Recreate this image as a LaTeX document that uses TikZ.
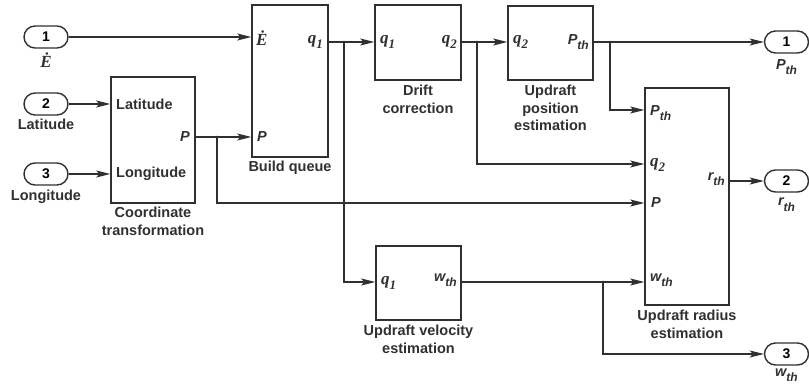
\documentclass[tikz,border=0pt]{standalone}
\usepackage{fontspec}
\setmainfont{Liberation Sans}
\newfontfamily\serf{Liberation Serif}
\usetikzlibrary{arrows.meta,shapes.misc}
\definecolor{ink}{HTML}{303030}
\newcommand{\sbx}[2]{#1\raisebox{-0.35em}{\fontsize{12}{12}\selectfont #2}}
\newcommand{\qq}[1]{{\serf\bfseries\itshape\fontsize{17}{17}\selectfont q\raisebox{-0.3em}{\fontsize{13}{13}\selectfont #1}}}
\newcommand{\Edot}{{\serf\bfseries\itshape\fontsize{17}{17}\selectfont Ė}}
\tikzset{
  blk/.style={draw=ink,line width=1.5pt,rectangle,inner sep=0pt},
  pill/.style={draw=ink,line width=1.4pt,rounded rectangle,minimum width=44pt,minimum height=22pt,inner sep=0pt,font=\bfseries\fontsize{14}{14}\selectfont},
  lbl/.style={inner sep=0pt,text=ink,font=\bfseries\fontsize{14.5}{17}\selectfont},
  captn/.style={inner sep=0pt,text=ink,align=center,anchor=north,font=\bfseries\fontsize{14.5}{17.5}\selectfont},
  wire/.style={draw=ink,line width=1.2pt},
  arr/.style={wire,-{Stealth[length=14pt,width=7pt,inset=3pt]}},
  jdot/.style={circle,fill=ink,inner sep=0pt,minimum size=2.8pt}
}
\begin{document}
\begin{tikzpicture}[x=1pt,y=-1pt]
\useasboundingbox (0,0) rectangle (809,387);
% inputs
\node[pill] (in1) at (46,37) {1};
\node[pill] (in2) at (46,104) {2};
\node[pill] (in3) at (46,174) {3};
\node[lbl,anchor=north] (in1l) at (46,53) {\Edot};
\node[lbl,anchor=north] (in2l) at (46,119) {Latitude};
\node[lbl,anchor=north] (in3l) at (46,190) {Longitude};
% blocks
\node[blk,minimum width=84pt,minimum height=126pt] (ct) at (153,140) {};
\node[blk,minimum width=76pt,minimum height=152pt] (bq) at (290,81) {};
\node[blk,minimum width=86pt,minimum height=75pt] (dc) at (418,42.5) {};
\node[blk,minimum width=85pt,minimum height=74pt] (up) at (550.5,43) {};
\node[blk,minimum width=84pt,minimum height=217pt] (ur) at (687,196.5) {};
\node[blk,minimum width=85pt,minimum height=74pt] (uv) at (418.5,283) {};
% outputs
\node[pill] (o1) at (786.5,42) {1};
\node[pill] (o2) at (786.5,181) {2};
\node[pill] (o3) at (786.5,354) {3};
\node[lbl,anchor=north] (o1l) at (786.5,59) {\itshape\sbx{P}{th}};
\node[lbl,anchor=north] (o2l) at (786.5,198) {\itshape\sbx{r}{th}};
\node[lbl,anchor=north] (o3l) at (786.5,369) {\itshape\sbx{w}{th}};
% captions
\node[captn] (ctc) at (153,207) {Coordinate\\transformation};
\node[captn] (bqc) at (290,161) {Build queue};
\node[captn] (dcc) at (418,85) {Drift\\correction};
\node[captn] (upc) at (550.5,85) {Updraft\\position\\estimation};
\node[captn] (urc) at (687,310) {Updraft radius\\estimation};
\node[captn] (uvc) at (418.5,325) {Updraft velocity\\estimation};
% port labels
\node[lbl,anchor=west] at (116,104) {Latitude};
\node[lbl,anchor=west] at (116,174) {Longitude};
\node[lbl,anchor=east] at (190,137) {\itshape P};
\node[lbl,anchor=west] at (256,38) {\Edot};
\node[lbl,anchor=east] at (323,42) {\qq{1}};
\node[lbl,anchor=west] at (257,137) {\itshape P};
\node[lbl,anchor=west] at (380,42) {\qq{1}};
\node[lbl,anchor=east] at (457,42) {\qq{2}};
\node[lbl,anchor=west] at (513,42) {\qq{2}};
\node[lbl,anchor=east] at (589,42) {\itshape\sbx{P}{th}};
\node[lbl,anchor=west] at (650,113) {\itshape\sbx{P}{th}};
\node[lbl,anchor=west] at (650,165) {\qq{2}};
\node[lbl,anchor=east] at (725,179) {\itshape\sbx{r}{th}};
\node[lbl,anchor=west] at (651,203) {\itshape P};
\node[lbl,anchor=west] at (650,280) {\itshape\sbx{w}{th}};
\node[lbl,anchor=west] at (381,283) {\qq{1}};
\node[lbl,anchor=east] at (457,280) {\itshape\sbx{w}{th}};
% junctions
\coordinate (jP) at (217,137);
\coordinate (jq1) at (344,42);
\coordinate (jq2) at (477,42);
\coordinate (jPth) at (610,42);
\coordinate (jw) at (603,282);
\node[jdot] at (jP) {};
\node[jdot] at (jq1) {};
\node[jdot] at (jq2) {};
\node[jdot] at (jPth) {};
\node[jdot] at (jw) {};
% wires
\draw[arr] (in1.east) -- (in1.east -| bq.west);
\draw[arr] (in2.east) -- (in2.east -| ct.west);
\draw[arr] (in3.east) -- (in3.east -| ct.west);
\draw[arr] (jP -| ct.east) -- (jP -| bq.west);
\draw[arr] (jP) |- (ur.west |- 0,203);
\draw[arr] (jq1 -| bq.east) -- (jq1 -| dc.west);
\draw[arr] (jq1) |- (uv.west |- 0,282);
\draw[arr] (jq2 -| dc.east) -- (jq2 -| up.west);
\draw[arr] (jq2) |- (ur.west |- 0,164);
\draw[arr] (jPth -| up.east) -- (o1.west);
\draw[arr] (jPth) |- (ur.west |- 0,110);
\draw[arr] (ur.east |- o2) -- (o2.west);
\draw[arr] (jw -| uv.east) -- (jw -| ur.west);
\draw[arr] (jw) |- (o3.west);
\end{tikzpicture}
\end{document}
